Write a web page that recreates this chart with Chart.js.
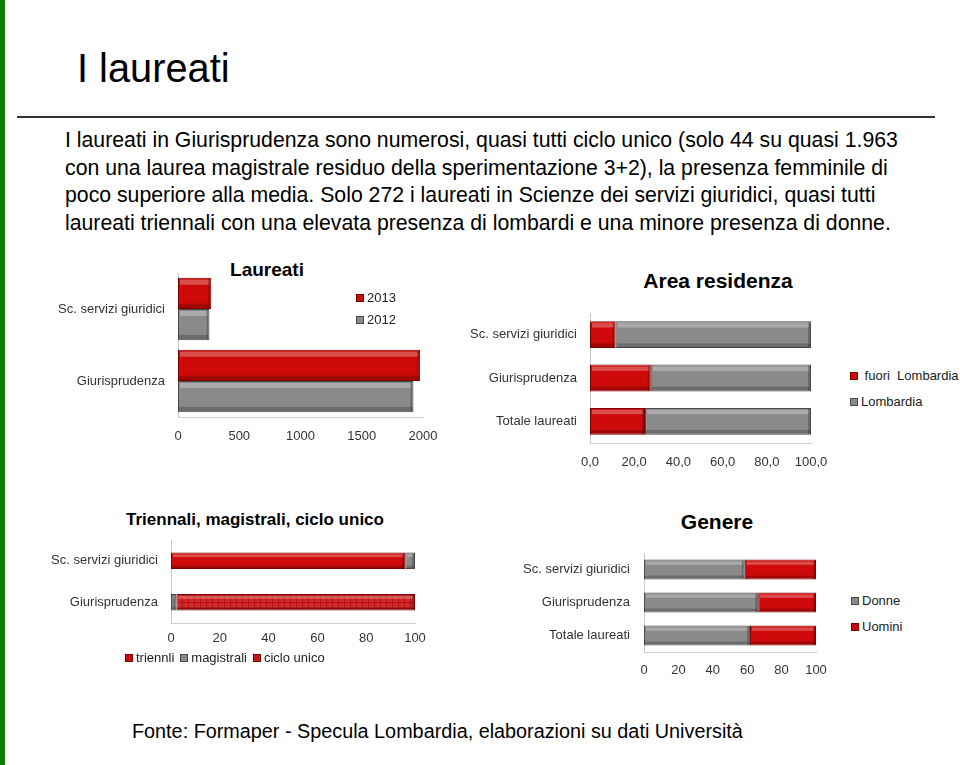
<!DOCTYPE html>
<html>
<head>
<meta charset="utf-8">
<script src="https://cdn.jsdelivr.net/npm/chart.js@4"></script>
<style>
  body { margin: 0; width: 960px; height: 765px; background: #fff; position: relative; overflow: hidden;
         font-family: "Liberation Sans", Arial, sans-serif; color: #000; }
  .abs { position: absolute; }
  #greenbar { left: 0; top: 0; width: 5px; height: 765px; background: #0a7d0a; }
  #title { left: 77px; top: 44px; font-size: 41px; line-height: 48px; transform: scaleX(0.97); transform-origin: left top; }
  #rule { left: 17px; top: 116px; width: 918px; height: 2px; background: #333; }
  #body { left: 65px; top: 126px; font-size: 22px; line-height: 27.6px; white-space: nowrap;
          transform: scaleX(0.966); transform-origin: left top; }
  #source { left: 132px; top: 720px; font-size: 20px; white-space: nowrap; transform: scaleX(0.99); transform-origin: left top; }
  .ctitle { font-weight: bold; white-space: nowrap; transform: translateX(-50%); }
  .leg { font-size: 13px; color: #222; white-space: nowrap; line-height: 15px; }
  .sw { display: inline-block; width: 8px; height: 8px; margin-right: 3px; vertical-align: 0px; box-sizing: border-box; }
</style>
</head>
<body>
<div id="greenbar" class="abs"></div>
<div id="title" class="abs">I laureati</div>
<div id="rule" class="abs"></div>
<div id="body" class="abs">I laureati in Giurisprudenza sono numerosi, quasi tutti ciclo unico (solo 44 su quasi 1.963<br>con una laurea magistrale residuo della sperimentazione 3+2), la presenza femminile di<br>poco superiore alla media. Solo 272 i laureati in Scienze dei servizi giuridici, quasi tutti<br>laureati triennali con una elevata presenza di lombardi e una minore presenza di donne.</div>

<div class="abs ctitle" style="left:267px; top:259px; font-size:19px;">Laureati</div>
<div class="abs ctitle" style="left:718px; top:269px; font-size:21px;">Area residenza</div>
<div class="abs ctitle" style="left:255px; top:510px; font-size:17px;">Triennali, magistrali, ciclo unico</div>
<div class="abs ctitle" style="left:717px; top:510px; font-size:21px;">Genere</div>

<canvas id="c1" class="abs" style="left:40px; top:262px;" width="420" height="185"></canvas>
<canvas id="c2" class="abs" style="left:460px; top:300px;" width="380" height="173"></canvas>
<canvas id="c3" class="abs" style="left:50px; top:530px;" width="390" height="123"></canvas>
<canvas id="c4" class="abs" style="left:500px; top:543px;" width="340" height="139"></canvas>

<div id="leg1" class="abs leg" style="left:356px; top:290px;"></div>
<div id="leg2" class="abs leg" style="left:850px; top:368px;"></div>
<div id="leg3" class="abs leg" style="left:125px; top:650px;"></div>
<div id="leg4" class="abs leg" style="left:851px; top:593px;"></div>

<div id="source" class="abs">Fonte: Formaper - Specula Lombardia, elaborazioni su dati Università</div>

<script>
// --- data ---
const laureatiCats = ["Sc. servizi giuridici", "Giurisprudenza"];
const laureati2013 = [272, 1975];
const laureati2012 = [257, 1922];
const laureatiTicks = ["0", "500", "1000", "1500", "2000"];

const residenzaCats = ["Sc. servizi giuridici", "Giurisprudenza", "Totale laureati"];
const fuoriLombardia = [11.6, 27.5, 24.9];
const lombardia = [88.4, 72.5, 75.1];
const residenzaTicks = ["0,0", "20,0", "40,0", "60,0", "80,0", "100,0"];

const corsiCats = ["Sc. servizi giuridici", "Giurisprudenza"];
const triennali = [96, 0];
const magistrali = [4, 2.2];
const cicloUnico = [0, 97.8];
const corsiTicks = ["0", "20", "40", "60", "80", "100"];

const genereCats = ["Sc. servizi giuridici", "Giurisprudenza", "Totale laureati"];
const donne = [58.6, 66.4, 61.6];
const uomini = [41.4, 33.6, 38.4];
const genereTicks = ["0", "20", "40", "60", "80", "100"];

// --- styles ---
const RED = "#cf0a0a", RED_DARK = "#7a0000";
const GREY = "#8a8a8a", GREY_DARK = "#4a4a4a";

// checkered red fill for "ciclo unico"
const pc = document.createElement("canvas");
pc.width = 6; pc.height = 6;
const px = pc.getContext("2d");
px.fillStyle = "#d42626"; px.fillRect(0, 0, 6, 6);
px.fillStyle = "#b01414"; px.fillRect(0, 0, 6, 1); px.fillRect(0, 0, 1, 6);
const cicloPattern = px.createPattern(pc, "repeat");

// light/dark bevel on each bar, like the Excel 3D style
const bevel = {
  id: "bevel",
  afterDatasetsDraw(chart) {
    const ctx = chart.ctx;
    chart.data.datasets.forEach((ds, i) => {
      const meta = chart.getDatasetMeta(i);
      meta.data.forEach(bar => {
        const p = bar.getProps(["x", "y", "base", "height"], true);
        const left = Math.min(p.x, p.base), w = Math.abs(p.x - p.base);
        if (w < 4) return;
        const top = p.y - p.height / 2, h = p.height;
        ctx.save();
        ctx.fillStyle = "rgba(255,255,255,0.28)";
        ctx.fillRect(left + 2, top + 2, w - 4, Math.max(2, h * 0.16));
        ctx.fillStyle = "rgba(0,0,0,0.22)";
        ctx.fillRect(left + 1, top + h - Math.max(2, h * 0.14) - 1, w - 2, Math.max(2, h * 0.14));
        ctx.fillRect(left + w - 3, top + 1, 2, h - 2);
        ctx.restore();
      });
    });
  }
};

function ds(label, data, bg, border) {
  return { label, data, backgroundColor: bg, borderColor: border, borderWidth: 1, borderSkipped: false };
}

function makeChart(id, cats, datasets, cfg) {
  return new Chart(document.getElementById(id), {
    type: "bar",
    data: { labels: cats, datasets },
    options: {
      indexAxis: "y",
      responsive: false,
      animation: false,
      categoryPercentage: cfg.catPct,
      barPercentage: 1,
      layout: { padding: cfg.padding },
      plugins: { legend: { display: false }, title: { display: false }, tooltip: { enabled: false } },
      scales: {
        x: {
          stacked: cfg.stacked,
          min: 0, max: cfg.max,
          ticks: {
            stepSize: cfg.step, padding: cfg.xPad, color: "#333",
            font: { family: "Liberation Sans", size: 13 },
            callback: (v, i) => cfg.ticks[i]
          },
          grid: { display: false, drawTicks: false },
          border: { display: true, color: "#d0d0d0" },
          afterFit: s => { s.height = 30; }
        },
        y: {
          stacked: cfg.stacked,
          ticks: { padding: cfg.yPad, color: "#333", font: { family: "Liberation Sans", size: 13 } },
          grid: { display: false, drawTicks: false },
          border: { display: true, color: "#c8c8c8" },
          afterFit: s => { s.width = cfg.yw; s.paddingTop = 0; s.paddingBottom = 0; }
        }
      }
    },
    plugins: [bevel]
  });
}

makeChart("c1", laureatiCats, [
  ds("2013", laureati2013, RED, RED_DARK),
  ds("2012", laureati2012, GREY, GREY_DARK)
], { stacked: false, max: 2000, step: 500, ticks: laureatiTicks, catPct: 0.87,
     padding: { top: 11, right: 37, left: 0, bottom: 0 }, yw: 138, xPad: 12, yPad: 13 });

makeChart("c2", residenzaCats, [
  ds(" fuori  Lombardia", fuoriLombardia, RED, RED_DARK),
  ds("Lombardia", lombardia, GREY, GREY_DARK)
], { stacked: true, max: 100, step: 20, ticks: residenzaTicks, catPct: 0.62,
     padding: { top: 13, right: 29, left: 0, bottom: 0 }, yw: 130, xPad: 12, yPad: 13 });

makeChart("c3", corsiCats, [
  ds("triennli", triennali, RED, RED_DARK),
  ds("magistrali", magistrali, GREY, GREY_DARK),
  ds("ciclo unico", cicloUnico, cicloPattern, RED_DARK)
], { stacked: true, max: 100, step: 20, ticks: corsiTicks, catPct: 0.4,
     padding: { top: 10, right: 25, left: 0, bottom: 0 }, yw: 121, xPad: 8, yPad: 13 });

makeChart("c4", genereCats, [
  ds("Donne", donne, GREY, GREY_DARK),
  ds("Uomini", uomini, RED, RED_DARK)
], { stacked: true, max: 100, step: 20, ticks: genereTicks, catPct: 0.6,
     padding: { top: 10, right: 24, left: 0, bottom: 0 }, yw: 144, xPad: 11, yPad: 14 });

// legends built from the same series names and colours
function legend(id, items, vertical, gap) {
  const el = document.getElementById(id);
  el.innerHTML = items.map(([label, color, border]) =>
    `<span style="display:${vertical ? "block" : "inline-block"};margin:${vertical ? `0 0 ${gap}px 0` : `0 ${gap}px 0 0`}">` +
    `<span class="sw" style="background:${color};border:1px solid ${border}"></span>${label}</span>`
  ).join("");
}
legend("leg1", [["2013", RED, RED_DARK], ["2012", GREY, GREY_DARK]], true, 7);
legend("leg2", [[" fuori&nbsp; Lombardia", RED, RED_DARK], ["Lombardia", GREY, GREY_DARK]], true, 11);
legend("leg3", [["triennli", RED, RED_DARK], ["magistrali", GREY, GREY_DARK], ["ciclo unico", "#c41a1a", RED_DARK]], false, 6);
legend("leg4", [["Donne", GREY, GREY_DARK], ["Uomini", RED, RED_DARK]], true, 11);
</script>
</body>
</html>
